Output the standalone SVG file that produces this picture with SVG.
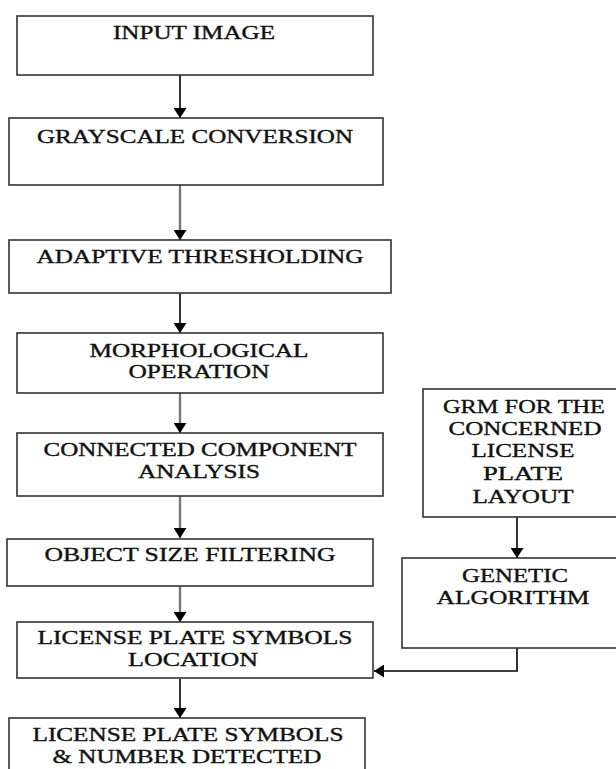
<svg xmlns="http://www.w3.org/2000/svg" width="616" height="769" viewBox="0 0 616 769">
<style>
.box{fill:#fff;stroke:#333;stroke-width:1.6}
.t{font-family:"Liberation Serif","Times New Roman",serif;font-size:18.5px;fill:#111;stroke:#111;stroke-width:0.35;text-anchor:middle}
.c{fill:none;stroke:#000;stroke-width:1.6}
.g{fill:none;stroke:#777;stroke-width:2.4}
</style>
<defs>
<marker id="ah" markerUnits="userSpaceOnUse" markerWidth="11" markerHeight="13" refX="10" refY="6.5" orient="auto">
<path d="M0,0 L10,6.5 L0,13 z" fill="#000"/>
</marker>
</defs>
<rect width="616" height="769" fill="#fff"/>
<g id="connectors">
<path class="c" d="M180,75 V118" marker-end="url(#ah)"/>
<path class="g" d="M180,185 V240" marker-end="url(#ah)"/>
<path class="c" d="M180,293 V333" marker-end="url(#ah)"/>
<path class="g" d="M180,393 V433" marker-end="url(#ah)"/>
<path class="g" d="M180,496 V538" marker-end="url(#ah)"/>
<path class="g" d="M180,586 V622" marker-end="url(#ah)"/>
<path class="c" d="M180,679 V718" marker-end="url(#ah)"/>
<path class="c" d="M517,517 V558" marker-end="url(#ah)"/>
<path class="c" d="M517,648 V671 H374" marker-end="url(#ah)"/>
</g>
<g id="input-image">
<rect class="box" x="17" y="16" width="356" height="59"/>
<text class="t" x="194" y="39" textLength="162" lengthAdjust="spacingAndGlyphs">INPUT IMAGE</text>
</g>
<g id="grayscale">
<rect class="box" x="9" y="118" width="374" height="67"/>
<text class="t" x="195" y="143" textLength="316" lengthAdjust="spacingAndGlyphs">GRAYSCALE CONVERSION</text>
</g>
<g id="adaptive">
<rect class="box" x="9" y="240" width="382" height="53"/>
<text class="t" x="200" y="263" textLength="327" lengthAdjust="spacingAndGlyphs">ADAPTIVE THRESHOLDING</text>
</g>
<g id="morphological">
<rect class="box" x="17" y="333" width="366" height="60"/>
<text class="t" x="199" y="357" textLength="219" lengthAdjust="spacingAndGlyphs">MORPHOLOGICAL</text>
<text class="t" x="199" y="378" textLength="141" lengthAdjust="spacingAndGlyphs">OPERATION</text>
</g>
<g id="connected">
<rect class="box" x="17" y="433" width="366" height="63"/>
<text class="t" x="200" y="456" textLength="313" lengthAdjust="spacingAndGlyphs">CONNECTED COMPONENT</text>
<text class="t" x="199" y="478" textLength="122" lengthAdjust="spacingAndGlyphs">ANALYSIS</text>
</g>
<g id="object-size">
<rect class="box" x="7" y="539" width="366" height="47"/>
<text class="t" x="190" y="561" textLength="291" lengthAdjust="spacingAndGlyphs">OBJECT SIZE FILTERING</text>
</g>
<g id="location">
<rect class="box" x="17" y="622" width="356" height="56"/>
<text class="t" x="195" y="644" textLength="315" lengthAdjust="spacingAndGlyphs">LICENSE PLATE SYMBOLS</text>
<text class="t" x="193" y="666" textLength="130" lengthAdjust="spacingAndGlyphs">LOCATION</text>
</g>
<g id="detected">
<rect class="box" x="9" y="718" width="356" height="70"/>
<text class="t" x="188" y="741" textLength="311" lengthAdjust="spacingAndGlyphs">LICENSE PLATE SYMBOLS</text>
<text class="t" x="187" y="763" textLength="269" lengthAdjust="spacingAndGlyphs">&amp; NUMBER DETECTED</text>
</g>
<g id="grm">
<rect class="box" x="423" y="389" width="202" height="128"/>
<text class="t" x="524" y="413" textLength="162" lengthAdjust="spacingAndGlyphs">GRM FOR THE</text>
<text class="t" x="525" y="435" textLength="153" lengthAdjust="spacingAndGlyphs">CONCERNED</text>
<text class="t" x="523" y="457" textLength="103" lengthAdjust="spacingAndGlyphs">LICENSE</text>
<text class="t" x="523" y="480" textLength="80" lengthAdjust="spacingAndGlyphs">PLATE</text>
<text class="t" x="523" y="503" textLength="101" lengthAdjust="spacingAndGlyphs">LAYOUT</text>
</g>
<g id="genetic">
<rect class="box" x="402" y="558" width="222" height="90"/>
<text class="t" x="515" y="582" textLength="106" lengthAdjust="spacingAndGlyphs">GENETIC</text>
<text class="t" x="513" y="604" textLength="153" lengthAdjust="spacingAndGlyphs">ALGORITHM</text>
</g>
</svg>
